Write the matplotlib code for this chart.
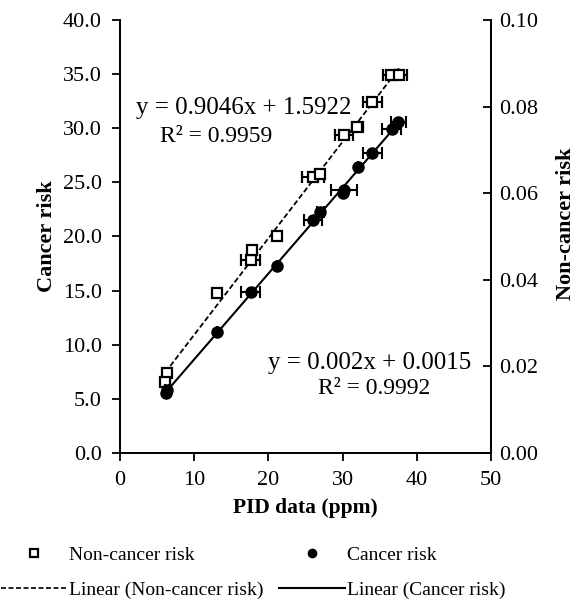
import matplotlib.pyplot as plt
import numpy as np
from matplotlib.lines import Line2D

plt.rcParams['font.family'] = ['Liberation Serif', 'DejaVu Serif']
plt.rcParams['mathtext.fontset'] = 'stix'

# PID readings (ppm) and risk values
nc_pid = [6.3, 6.1, 13.1, 17.6, 17.8, 21.2, 26.0, 26.9, 30.2, 32.0, 34.0, 36.5, 37.6]
nc_risk = [7.36, 6.59, 14.8, 17.8, 18.75, 20.0, 25.5, 25.8, 29.4, 30.1, 32.4, 34.9, 34.9]
nc_err = [0.3, 0.3, 0.0, 1.3, 0.3, 0.0, 1.5, 0.6, 1.2, 0.8, 1.3, 1.1, 1.1]

c_pid = [6.3, 6.2, 13.1, 17.6, 21.2, 26.0, 27.0, 30.2, 30.1, 32.1, 34.0, 36.6, 37.5]
c_risk = [0.01455, 0.01375, 0.0280, 0.03725, 0.04325, 0.05375, 0.05575,
          0.06075, 0.0600, 0.0660, 0.06925, 0.07475, 0.0765]
c_err = [0.3, 0.3, 0.0, 1.3, 0.0, 1.2, 0.5, 1.8, 0.0, 0.0, 1.3, 1.3, 1.0]

nc_eq = "y = 0.9046x + 1.5922"
nc_r2 = "R² = 0.9959"
c_eq = "y = 0.002x + 0.0015"
c_r2 = "R² = 0.9992"

fig = plt.figure(figsize=(5.78, 6.05), dpi=100)
ax = fig.add_axes([0.2076, 0.2512, 0.642, 0.7158])
ax2 = ax.twinx()

# fitted trendlines across the data range
nc_fit = np.polyfit(nc_pid, nc_risk, 1)
c_fit = np.polyfit(c_pid, c_risk, 1)
xl = np.array([min(nc_pid), max(nc_pid)])
ax.plot(xl, np.polyval(nc_fit, xl), color='black', ls=(0, (3, 1.5)), lw=1.3, zorder=2)
xc = np.array([min(c_pid), max(c_pid)])
ax2.plot(xc, np.polyval(c_fit, xc), color='black', ls='-', lw=1.5, zorder=2)

ax.errorbar(nc_pid, nc_risk, xerr=nc_err, fmt='s', mfc='white', mec='black', mew=1.6,
            ms=7.5, ecolor='black', elinewidth=1.5, capsize=4, capthick=1.5, zorder=3)
ax2.errorbar(c_pid, c_risk, xerr=c_err, fmt='o', mfc='black', mec='black',
             ms=8, ecolor='black', elinewidth=1.5, capsize=4, capthick=1.5, zorder=3)

ax.set_xlim(0, 50)
ax.set_ylim(0, 40)
ax2.set_ylim(0, 0.10)
ax.set_xticks(np.arange(0, 51, 10))
ax.set_yticks(np.arange(0, 40.1, 5))
ax.set_yticklabels([f"{v:.1f}" for v in np.arange(0, 40.1, 5)])
ax2.set_yticks(np.arange(0, 0.101, 0.02))
ax2.set_yticklabels([f"{v:.2f}" for v in np.arange(0, 0.101, 0.02)])

for a in (ax, ax2):
    a.spines['top'].set_visible(False)
    for s in a.spines.values():
        s.set_linewidth(1.3)
ax.tick_params(axis='both', direction='out', length=6, width=1.3, labelsize=16, pad=7)
ax2.tick_params(axis='y', direction='in', length=6, width=1.3, labelsize=16, pad=6)

ax.set_xlabel('PID data (ppm)', fontsize=15.5, fontweight='bold', labelpad=6)
ax.set_ylabel('Cancer risk', fontsize=16, fontweight='bold', labelpad=4)
fig.text(0.98, 0.63, 'Non-cancer risk', rotation=90, fontsize=16, fontweight='bold',
         ha='center', va='center')

ax.text(0.334, 0.797, nc_eq, transform=ax.transAxes, fontsize=18, ha='center', va='center')
ax.text(0.259, 0.730, nc_r2, transform=ax.transAxes, fontsize=17, ha='center', va='center')
ax.text(0.674, 0.208, c_eq, transform=ax.transAxes, fontsize=18, ha='center', va='center')
ax.text(0.685, 0.148, c_r2, transform=ax.transAxes, fontsize=17, ha='center', va='center')

handles = [
    Line2D([], [], ls='none', marker='s', mfc='white', mec='black', mew=1.6, ms=6),
    Line2D([], [], color='black', ls=(0, (3, 1.5)), lw=1.2),
    Line2D([], [], ls='none', marker='o', mfc='black', mec='black', ms=6),
    Line2D([], [], color='black', ls='-', lw=1.5),
]
labels = ['Non-cancer risk', 'Linear (Non-cancer risk)', 'Cancer risk', 'Linear (Cancer risk)']
fig.legend(handles, labels, loc='lower left', bbox_to_anchor=(-0.005, 0.004), ncol=2,
           frameon=False, fontsize=14, handlelength=3.4, handletextpad=0.1,
           columnspacing=0.8, labelspacing=0.9, borderaxespad=0.1, borderpad=0.1)

fig.savefig('out.png', dpi=100)
